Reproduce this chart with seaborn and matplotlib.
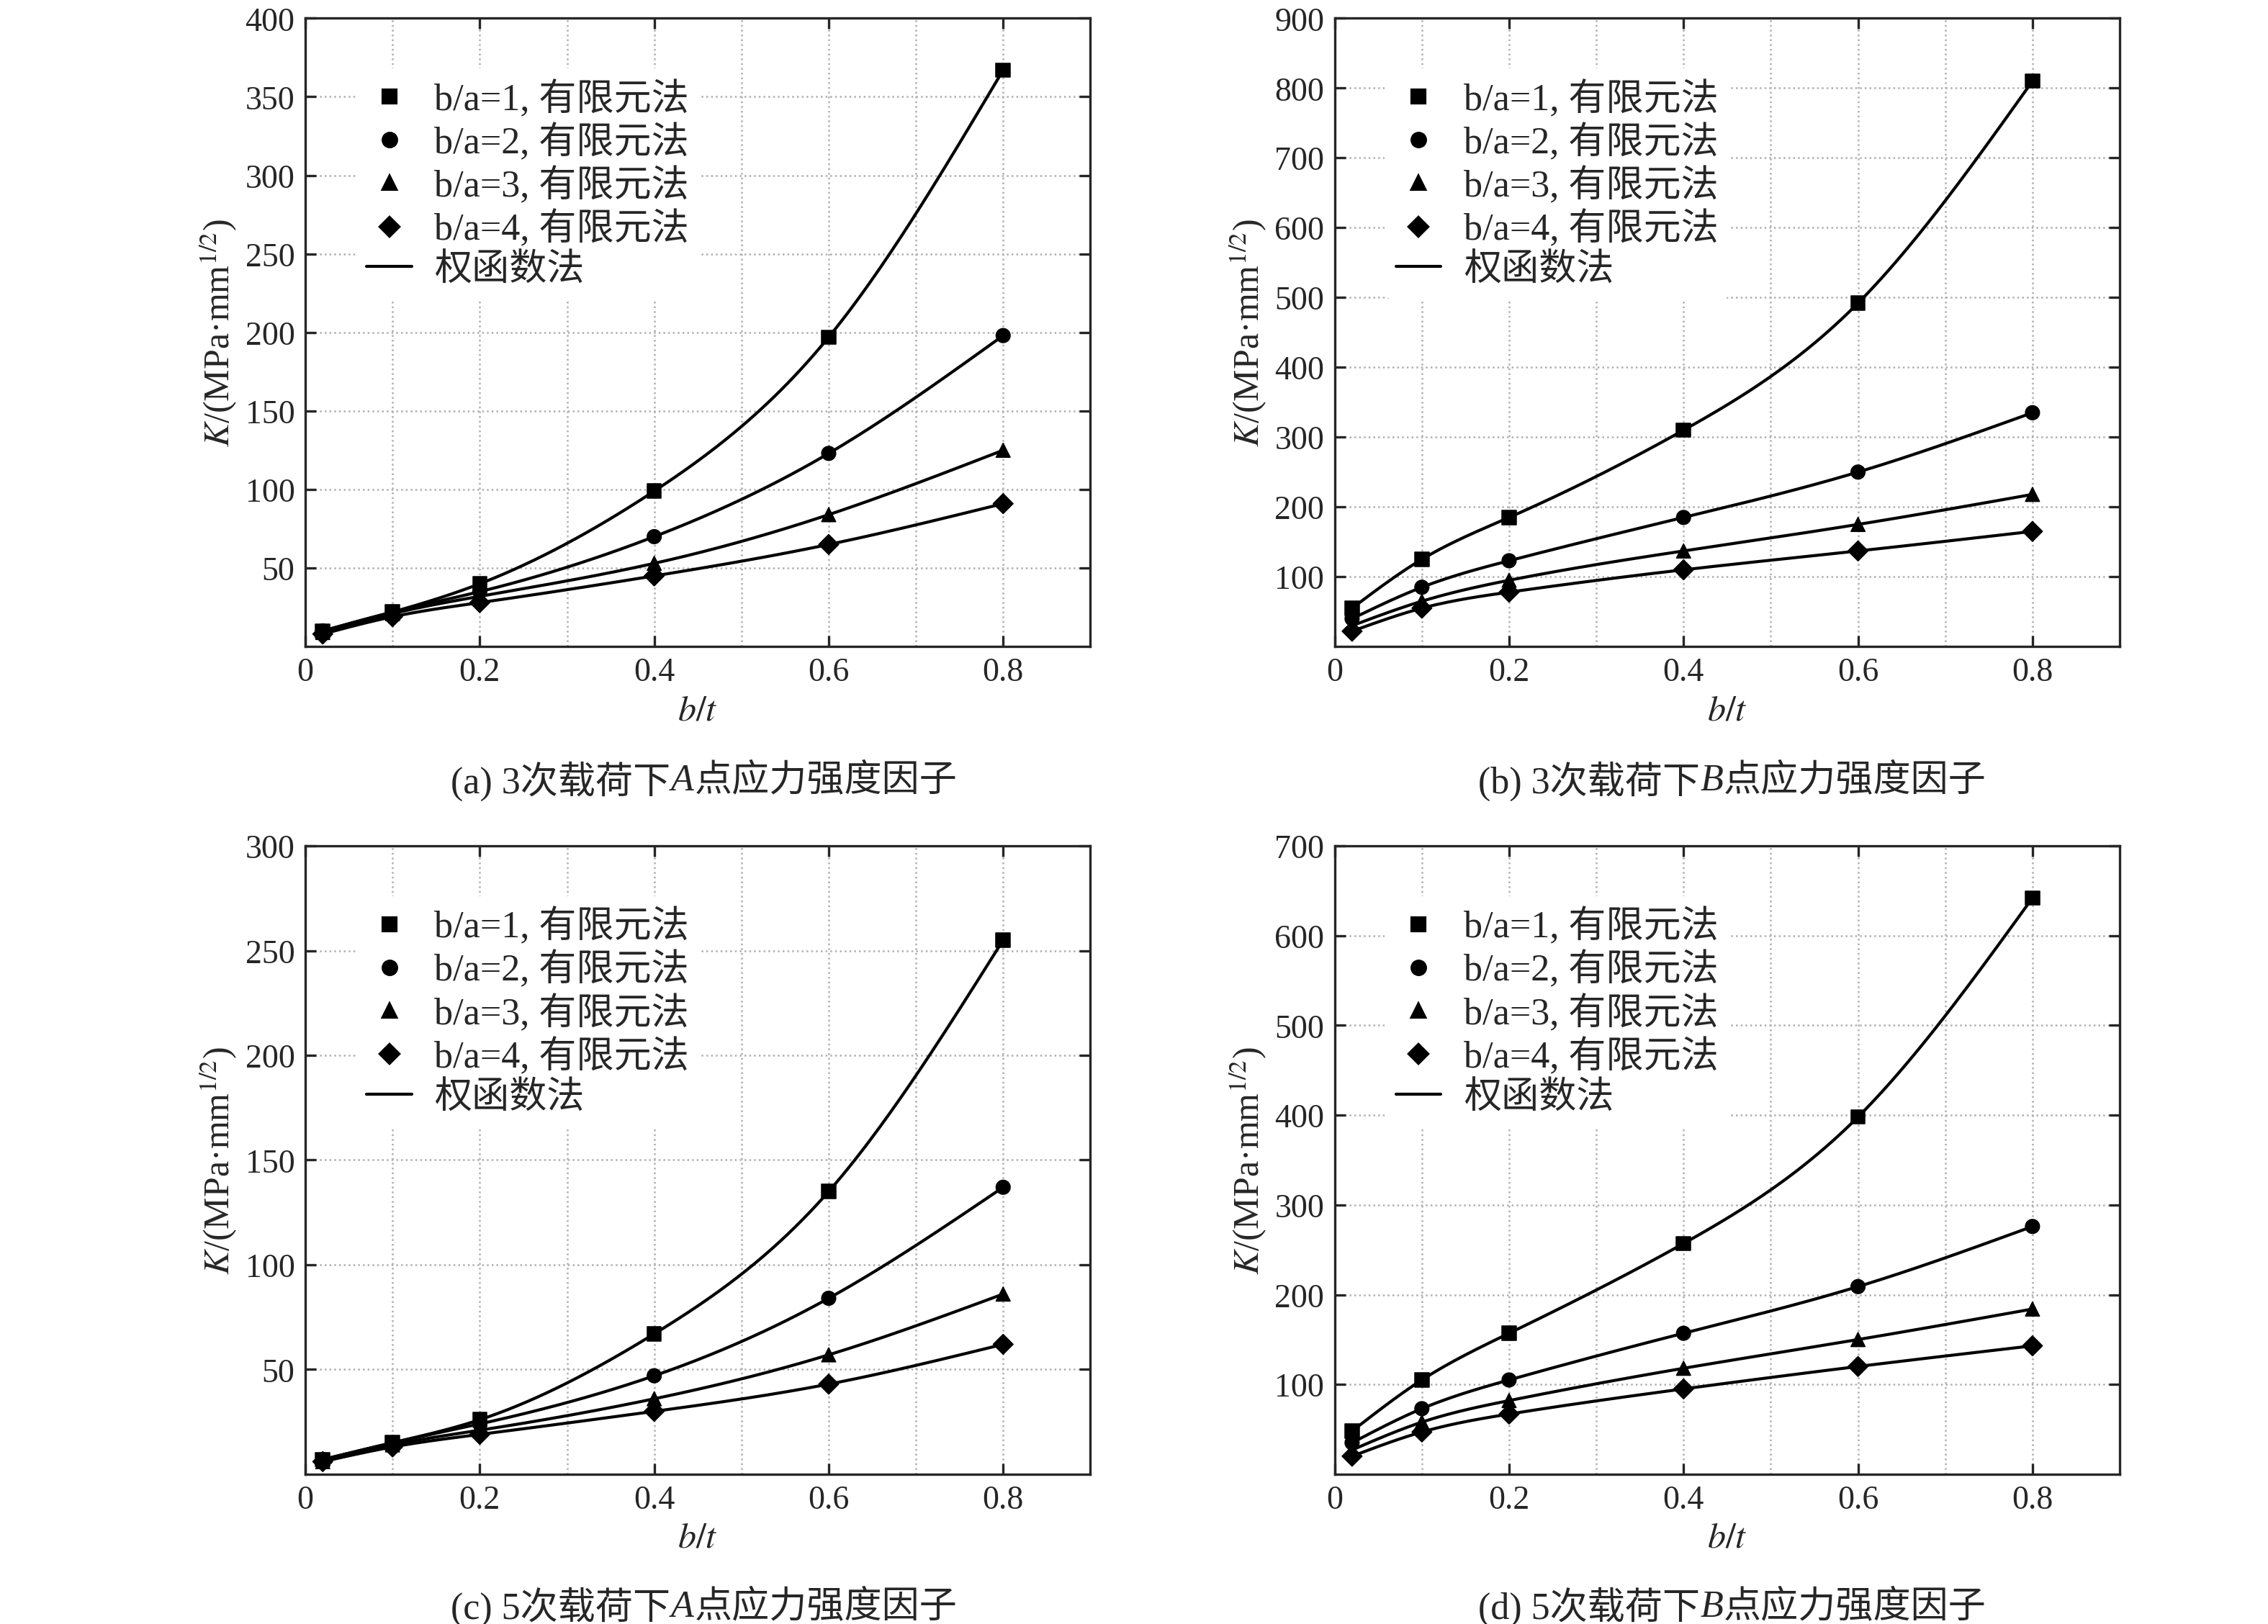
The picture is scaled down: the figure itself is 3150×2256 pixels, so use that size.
import numpy as np
import pandas as pd
import matplotlib
matplotlib.use("Agg")
import matplotlib.pyplot as plt
import seaborn as sns
from matplotlib.lines import Line2D

sns.set_style("ticks")
plt.rcParams['font.family'] = ['Liberation Serif', 'Noto Sans CJK SC']
plt.rcParams['mathtext.fontset'] = 'stix'

bt = [0.02, 0.1, 0.2, 0.4, 0.6, 0.8]
ratios = [1, 2, 3, 4]

# K values per panel, one row per b/a
k_a = [[10, 22, 40, 99, 197, 367],
       [10, 22, 35, 70, 123, 198],
       [9, 21, 32, 53, 84, 125],
       [8, 19, 28, 45, 65, 91]]
k_b = [[55, 125, 185, 310, 492, 810],
       [40, 85, 123, 185, 250, 335],
       [30, 65, 95, 137, 175, 218],
       [22, 55, 78, 110, 137, 165]]
k_c = [[7, 15, 26, 67, 135, 255],
       [7, 15, 24, 47, 84, 137],
       [6, 14, 21, 36, 57, 86],
       [6, 13, 19, 30, 43, 62]]
k_d = [[48, 105, 157, 257, 398, 642],
       [35, 73, 105, 157, 209, 276],
       [27, 58, 82, 118, 150, 184],
       [20, 47, 67, 95, 120, 143]]

captions = [("(a) 3次载荷下", "A", "点应力强度因子"),
            ("(b) 3次载荷下", "B", "点应力强度因子"),
            ("(c) 5次载荷下", "A", "点应力强度因子"),
            ("(d) 5次载荷下", "B", "点应力强度因子")]
ylims = [400, 900, 300, 700]
ysteps = [50, 100, 50, 100]
markers = ["s", "o", "^", "D"]


def spline(x, y, n=200):
    # natural cubic spline through the points, for the smooth line
    x = np.asarray(x, float); y = np.asarray(y, float)
    h = np.diff(x)
    m = len(x)
    A = np.zeros((m, m)); r = np.zeros(m)
    A[0, 0] = A[-1, -1] = 1
    for i in range(1, m - 1):
        A[i, i - 1] = h[i - 1]; A[i, i] = 2 * (h[i - 1] + h[i]); A[i, i + 1] = h[i]
        r[i] = 6 * ((y[i + 1] - y[i]) / h[i] - (y[i] - y[i - 1]) / h[i - 1])
    M = np.linalg.solve(A, r)
    xs = np.linspace(x[0], x[-1], n)
    idx = np.clip(np.searchsorted(x, xs) - 1, 0, m - 2)
    x0, x1 = x[idx], x[idx + 1]; hh = x1 - x0
    ys = (M[idx] * (x1 - xs) ** 3 + M[idx + 1] * (xs - x0) ** 3) / (6 * hh) \
        + (y[idx] / hh - M[idx] * hh / 6) * (x1 - xs) + (y[idx + 1] / hh - M[idx + 1] * hh / 6) * (xs - x0)
    return xs, ys


fig = plt.figure(figsize=(10.5, 7.523), dpi=300)
W, H = 1560, 1117
boxes = [(210, 13, 750, 445), (918, 13, 1458, 445), (210, 582, 750, 1014), (918, 582, 1458, 1014)]
cap_y = [537, 537, 1105, 1105]

for p, (data, cap, ylim, ys) in enumerate(zip([k_a, k_b, k_c, k_d], captions, ylims, ysteps)):
    l, t, r, b = boxes[p]
    ax = fig.add_axes([l / W, 1 - b / H, (r - l) / W, (b - t) / H])
    rows = []
    for ra, vals in zip(ratios, data):
        for x, v in zip(bt, vals):
            rows.append({"bt": x, "K": v, "ba": ra})
    df = pd.DataFrame(rows)
    for ra, vals in zip(ratios, data):
        xs, yv = spline(bt, vals)
        ax.plot(xs, yv, color="black", lw=1.0, zorder=2)
    sns.scatterplot(data=df, x="bt", y="K", style="ba", markers=markers, color="black",
                    s=22, edgecolor="black", legend=False, ax=ax, zorder=3)
    ax.set_xlim(0, 0.9)
    ax.set_ylim(0, ylim)
    ax.set_xticks([0, 0.2, 0.4, 0.6, 0.8])
    ax.set_xticklabels(["0", "0.2", "0.4", "0.6", "0.8"])
    ax.set_xticks(np.arange(0.1, 0.9, 0.2), minor=True)
    ax.set_yticks(np.arange(ys, ylim + 1, ys))
    ax.grid(True, which="both", linestyle=":", color="#b0b0b0", lw=0.6)
    ax.tick_params(direction="in", which="both", labelsize=11, top=True, right=True)
    ax.tick_params(which="minor", length=0)
    for s in ax.spines.values():
        s.set_linewidth(0.8)
    ax.set_xlabel("$\\it{b/t}$", fontsize=12, labelpad=2)
    ax.set_ylabel("$\\it{K}$/(MPa·mm$^{1/2}$)", fontsize=12, labelpad=2)
    handles = [Line2D([], [], marker=m, color="black", ls="none", markersize=4.5,
                      label=f"b/a={ra}, 有限元法") for m, ra in zip(markers, ratios)]
    handles.append(Line2D([], [], color="black", lw=1.0, label="权函数法"))
    leg = ax.legend(handles=handles, loc="upper left", bbox_to_anchor=(0.04, 0.95), frameon=True,
                    edgecolor="none", facecolor="white", framealpha=1, fontsize=12.5,
                    handlelength=1.2, handletextpad=0.6, labelspacing=0.15, borderpad=0.3)
    for txt in leg.get_texts()[:4]:
        txt.set_fontstyle("normal")
    # caption: plain part, italic point letter, plain part
    cx = (l + r) / 2 / W
    cy = 1 - cap_y[p] / H
    t1 = fig.text(cx - 0.012, cy, cap[0], ha="right", va="center", fontsize=12.5)
    fig.text(cx - 0.012, cy, cap[1], ha="left", va="center", fontsize=12.5, style="italic")
    fig.text(cx - 0.0015, cy, cap[2], ha="left", va="center", fontsize=12.5)

fig.savefig("out.png", dpi=300)
